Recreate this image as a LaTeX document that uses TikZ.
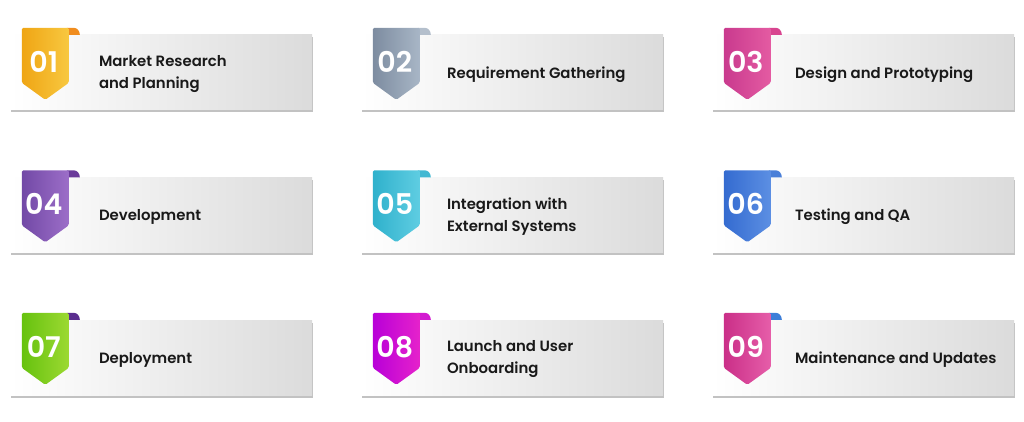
\documentclass[tikz,border=0pt]{standalone}
\usepackage{fontspec}
\setmainfont{Poppins}[BoldFont={Poppins SemiBold}]
\usetikzlibrary{calc,shadows}

\definecolor{tabA1}{HTML}{EFA514}\definecolor{tabB1}{HTML}{F8C840}\definecolor{fold1}{HTML}{F08C1E}
\definecolor{tabA2}{HTML}{7D8CA0}\definecolor{tabB2}{HTML}{A8B6C6}\definecolor{fold2}{HTML}{B4BFCC}
\definecolor{tabA3}{HTML}{C93A8E}\definecolor{tabB3}{HTML}{E45BA2}\definecolor{fold3}{HTML}{D8448F}
\definecolor{tabA4}{HTML}{7249A6}\definecolor{tabB4}{HTML}{9C6EC8}\definecolor{fold4}{HTML}{6A3A9A}
\definecolor{tabA5}{HTML}{2FB1CC}\definecolor{tabB5}{HTML}{5FCDE2}\definecolor{fold5}{HTML}{42B8D2}
\definecolor{tabA6}{HTML}{346BD0}\definecolor{tabB6}{HTML}{5C8FE3}\definecolor{fold6}{HTML}{4A7FD8}
\definecolor{tabA7}{HTML}{66C20E}\definecolor{tabB7}{HTML}{9CD932}\definecolor{fold7}{HTML}{5B2E8F}
\definecolor{tabA8}{HTML}{B800D8}\definecolor{tabB8}{HTML}{E622CB}\definecolor{fold8}{HTML}{D21AD0}
\definecolor{tabA9}{HTML}{CA2F88}\definecolor{tabB9}{HTML}{E65EA9}\definecolor{fold9}{HTML}{3D7ED8}

\tikzset{
	card/.style={rectangle, minimum width=302pt, minimum height=75pt, inner sep=0pt,
		left color=white, right color=black!14,
		drop shadow={shadow xshift=1pt, shadow yshift=-2.5pt, opacity=0.4, fill=black!60}},
	tabnum/.style={text=white, font=\fontsize{28.5}{28.5}\selectfont\bfseries, inner sep=0pt},
	steplabel/.style={anchor=west, align=left, inner sep=0pt, text=black!90,
		font=\fontsize{14.9}{22}\selectfont\bfseries}
}

\begin{document}
\begin{tikzpicture}[x=1pt, y=-1pt]
		%%%%% START %%%%%
		\useasboundingbox (0, 0) rectangle (1024, 422);
		
		\foreach \i/\col/\row/\lbl in {
			1/0/0/{Market Research\\and Planning},
			2/1/0/{Requirement Gathering},
			3/2/0/{Design and Prototyping},
			4/0/1/{Development},
			5/1/1/{Integration with\\External Systems},
			6/2/1/{Testing and QA},
			7/0/2/{Deployment},
			8/1/2/{Launch and User\\Onboarding},
			9/2/2/{Maintenance and Updates}} {
			
			\node[card] (c\i) at ({161 + 351*\col}, {72.5 + 142.5*\row}) {};
			
			% fold behind the tab
			\fill[fold\i] ($(c\i.north west)+(57, -7)$) -- ($(c\i.north west)+(64, -7)$)
				to[out=0, in=90] ($(c\i.north west)+(70, 0)$) -- ($(c\i.north west)+(57, 0)$) -- cycle;
			
			% ribbon tab
			\shade[left color=tabA\i, right color=tabB\i, rounded corners=1.5pt]
				($(c\i.north west)+(12, -7)$) -- ($(c\i.north west)+(59, -7)$)
				-- ($(c\i.north west)+(59, 48)$) -- ($(c\i.north west)+(35.5, 65)$)
				-- ($(c\i.north west)+(12, 48)$) -- cycle;
			
			\node[tabnum] (n\i) at ($(c\i.north west)+(34, 27)$) {0\i};
			\node[steplabel] (t\i) at ($(c\i.west)+({89-3*\col}, 2)$) {\lbl};
		}
		
		%%%%% END %%%%%
	\end{tikzpicture}
\end{document}
